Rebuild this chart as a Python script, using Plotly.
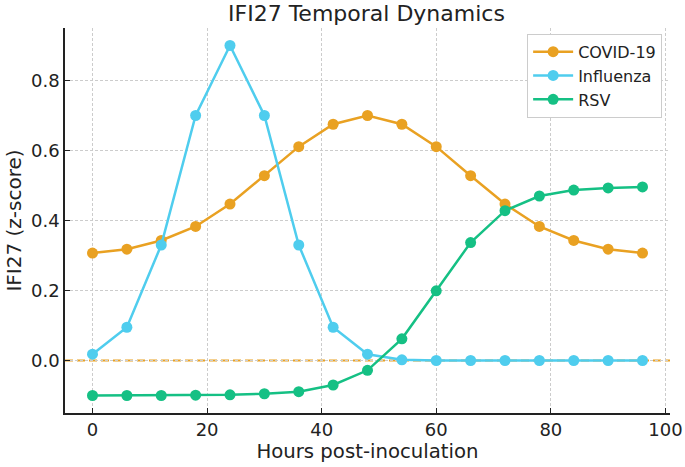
import plotly.graph_objects as go

# hours post-inoculation
hours = [0, 6, 12, 18, 24, 30, 36, 42, 48, 54, 60, 66, 72, 78, 84, 90, 96]

covid = [0.307, 0.318, 0.343, 0.383, 0.447, 0.528, 0.611, 0.675, 0.700,
         0.675, 0.611, 0.528, 0.447, 0.383, 0.343, 0.318, 0.307]
influenza = [0.018, 0.095, 0.330, 0.700, 0.900, 0.700, 0.330, 0.095, 0.018,
             0.002, 0.0, 0.0, 0.0, 0.0, 0.0, 0.0, 0.0]
rsv = [-0.100, -0.100, -0.100, -0.099, -0.098, -0.095, -0.089, -0.070, -0.028,
       0.062, 0.199, 0.337, 0.428, 0.470, 0.487, 0.493, 0.496]

series = [('COVID-19', covid, '#E9A122'),
          ('Influenza', influenza, '#4FCDEE'),
          ('RSV', rsv, '#15C084')]

fig = go.Figure()
for name, vals, color in series:
    fig.add_trace(go.Scatter(x=hours, y=vals, name=name, mode='lines+markers',
                             line=dict(color=color, width=2.5),
                             marker=dict(color=color, size=11)))

# reference line at zero, above the grid but under the traces
fig.add_shape(type='line', xref='paper', yref='y', x0=0, x1=1, y0=0, y1=0,
              line=dict(color='#E9A122', width=1.8, dash='8px,4px'), layer='between')

font = 'DejaVu Sans'
fig.update_layout(
    width=685, height=467,
    margin=dict(l=65, r=15, t=28, b=54, autoexpand=False),
    plot_bgcolor='white', paper_bgcolor='white',
    font=dict(family=font, size=18, color='#222222'),
    title=dict(text='IFI27 Temporal Dynamics', x=0.535, xanchor='center',
               y=0.972, yanchor='middle', font=dict(family=font, size=22)),
    legend=dict(x=0.987, y=0.985, xanchor='right', yanchor='top',
                bordercolor='#CCCCCC', borderwidth=1, bgcolor='white',
                font=dict(family=font, size=16), tracegroupgap=0, itemwidth=40),
)
fig.update_xaxes(range=[-4.8, 100.8], tickvals=[0, 20, 40, 60, 80, 100],
                 title=dict(text='Hours post-inoculation', standoff=4,
                            font=dict(family=font, size=19.7)),
                 automargin=False,
                 showline=True, linecolor='#222222', linewidth=1.5,
                 ticks='inside', ticklen=5, tickcolor='#222222',
                 showgrid=True, gridcolor='#CCCCCC', griddash='3px,2px', gridwidth=1,
                 zeroline=False)
fig.update_yaxes(range=[-0.15, 0.95], tickvals=[0.0, 0.2, 0.4, 0.6, 0.8],
                 tickformat='.1f',
                 title=dict(text='IFI27 (z-score)', standoff=4,
                            font=dict(family=font, size=20)),
                 automargin=False,
                 showline=True, linecolor='#222222', linewidth=1.5,
                 ticks='inside', ticklen=5, tickcolor='#222222',
                 showgrid=True, gridcolor='#CCCCCC', griddash='3px,2px', gridwidth=1,
                 zeroline=False)

# drop the page margin so the figure sits at the window's corner
fig.write_html("out.html", config={'displayModeBar': False},
               post_script="document.body.style.margin='0';")
